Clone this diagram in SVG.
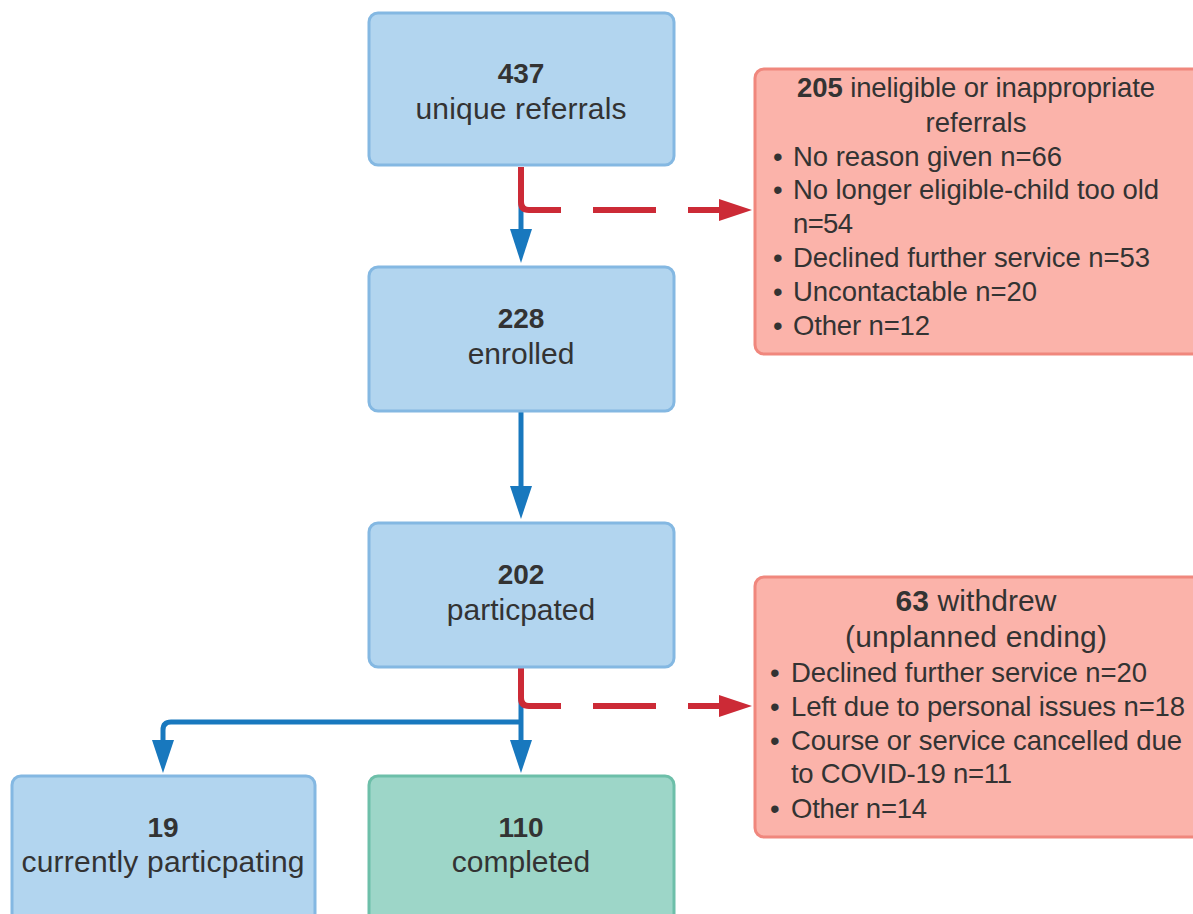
<svg xmlns="http://www.w3.org/2000/svg" width="1193" height="914" viewBox="0 0 1193 914">
<style>
.blue{fill:#b2d5ef;stroke:#84b8e2;stroke-width:3}
.green{fill:#9dd6c8;stroke:#6dbfa9;stroke-width:3}
.red{fill:#fbb3aa;stroke:#f0877d;stroke-width:3}
text{font-family:"Liberation Sans",Arial,sans-serif;fill:#333333}
.c{text-anchor:middle;font-size:30px}
.n{text-anchor:middle;font-size:28px;font-weight:bold}
.b{font-weight:bold}
.r{font-size:27.5px}
.h{font-size:30px;text-anchor:middle}
.bl{stroke:#1878be;stroke-width:5;fill:none}
.rl{stroke:#cc2a36;stroke-width:6;fill:none}
.ah-b{fill:#1878be}
.ah-r{fill:#cc2a36}
</style>
<rect width="1193" height="914" fill="#ffffff"/>
<g id="connectors">
<path class="bl" d="M521 167 V232"/>
<polygon class="ah-b" points="510,229 532,229 521,263"/>
<path class="bl" d="M521 412 V489"/>
<polygon class="ah-b" points="510,486 532,486 521,519"/>
<path class="bl" d="M521 668 V742"/>
<polygon class="ah-b" points="510,740 532,740 521,773"/>
<path class="bl" d="M521 722 H171 Q163 722 163 730 V742"/>
<polygon class="ah-b" points="152,740 174,740 163,773"/>
<path class="rl" d="M521 167 V202 Q521 210 529 210 H561"/>
<path class="rl" d="M593 210 H656 M688 210 H722"/>
<polygon class="ah-r" points="719,199 719,221 752,210"/>
<path class="rl" d="M521 668 V698 Q521 706 529 706 H561"/>
<path class="rl" d="M593 706 H656 M688 706 H722"/>
<polygon class="ah-r" points="719,695 719,717 752,706"/>
</g>
<g id="n437">
<rect class="blue" x="369" y="13" width="305" height="152" rx="9"/>
<text class="n" x="521" y="83">437</text>
<text class="c" x="521" y="119" textLength="211">unique referrals</text>
</g>
<g id="n228">
<rect class="blue" x="369" y="267" width="305" height="144" rx="9"/>
<text class="n" x="521" y="328">228</text>
<text class="c" x="521" y="364">enrolled</text>
</g>
<g id="n202">
<rect class="blue" x="369" y="523" width="305" height="144" rx="9"/>
<text class="n" x="521" y="584">202</text>
<text class="c" x="521" y="620">particpated</text>
</g>
<g id="n19">
<rect class="blue" x="12" y="776" width="303" height="160" rx="9"/>
<text class="n" x="163" y="837">19</text>
<text class="c" x="163" y="872" textLength="283">currently particpating</text>
</g>
<g id="n110">
<rect class="green" x="369" y="776" width="305" height="160" rx="9"/>
<text class="n" x="521" y="837">110</text>
<text class="c" x="521" y="872">completed</text>
</g>
<g id="n205">
<rect class="red" x="755" y="69" width="460" height="285" rx="9"/>
<text class="r" x="976" y="97" text-anchor="middle" textLength="358"><tspan class="b">205</tspan> ineligible or inappropriate</text>
<text class="r" x="976" y="132" text-anchor="middle">referrals</text>
<text class="r" x="773" y="166">•</text>
<text class="r" x="793" y="166" textLength="269">No reason given n=66</text>
<text class="r" x="773" y="199">•</text>
<text class="r" x="793" y="199" textLength="366">No longer eligible-child too old</text>
<text class="r" x="793" y="233" textLength="60">n=54</text>
<text class="r" x="773" y="267">•</text>
<text class="r" x="793" y="267" textLength="357">Declined further service n=53</text>
<text class="r" x="773" y="301">•</text>
<text class="r" x="793" y="301" textLength="244">Uncontactable n=20</text>
<text class="r" x="773" y="335">•</text>
<text class="r" x="793" y="335" textLength="137">Other n=12</text>
</g>
<g id="n63">
<rect class="red" x="755" y="577" width="460" height="260" rx="9"/>
<text class="h" x="976" y="611" textLength="161"><tspan class="b">63</tspan> withdrew</text>
<text class="h" x="976" y="647" textLength="262">(unplanned ending)</text>
<text class="r" x="770" y="682">•</text>
<text class="r" x="791" y="682" textLength="356">Declined further service n=20</text>
<text class="r" x="770" y="716">•</text>
<text class="r" x="791" y="716" textLength="394">Left due to personal issues n=18</text>
<text class="r" x="770" y="750">•</text>
<text class="r" x="791" y="750" textLength="391">Course or service cancelled due</text>
<text class="r" x="791" y="783" textLength="221">to COVID-19 n=11</text>
<text class="r" x="770" y="818">•</text>
<text class="r" x="791" y="818" textLength="136">Other n=14</text>
</g>
</svg>
